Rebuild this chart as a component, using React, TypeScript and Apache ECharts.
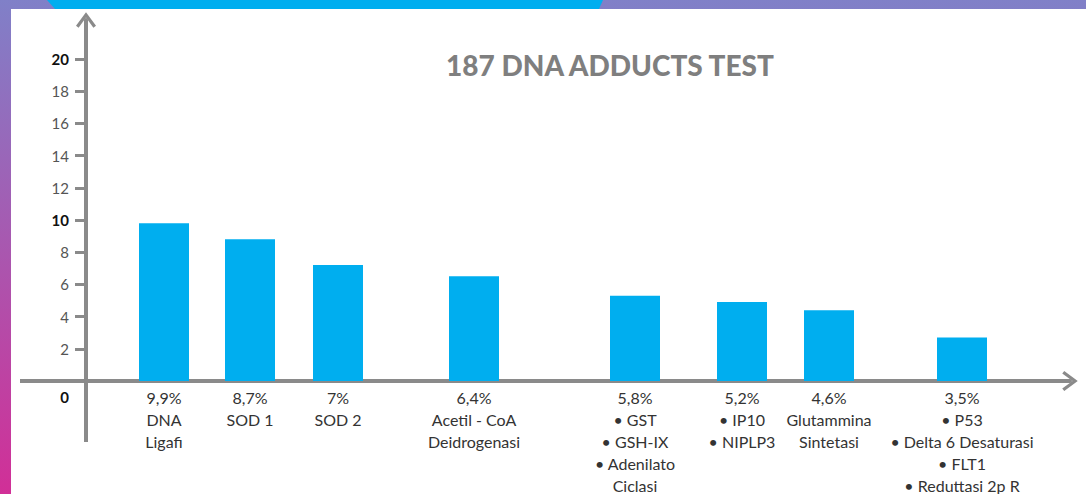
import React, { useEffect, useRef } from "react";
import * as echarts from "echarts";

// ---- data ----
const titleText = "187 DNA ADDUCTS TEST";
const percentLabels = ["9,9%", "8,7%", "7%", "6,4%", "5,8%", "5,2%", "4,6%", "3,5%"];
const categoryLines: string[][] = [
  ["DNA", "Ligafi"],
  ["SOD 1"],
  ["SOD 2"],
  ["Acetil - CoA", "Deidrogenasi"],
  ["• GST", "• GSH-IX", "• Adenilato", "Ciclasi"],
  ["• IP10", "• NIPLP3"],
  ["Glutammina", "Sintetasi"],
  ["• P53", "• Delta 6 Desaturasi", "• FLT1", "• Reduttasi 2p R"],
];
// bar heights as drawn in the picture (y-axis units)
const barValues = [9.8, 8.8, 7.2, 6.5, 5.3, 4.9, 4.4, 2.7];
// horizontal slot of each bar along the (unlabelled) x value axis
const slots = [7.8, 16.4, 25.2, 38.8, 54.9, 65.6, 74.3, 87.6];
const yTickValues = [2, 4, 6, 8, 10, 12, 14, 16, 18, 20];
const yLabelValues = [0, 2, 4, 6, 8, 10, 12, 14, 16, 18, 20];
const boldYLabels = [0, 10, 20];

const AXIS_COLOR = "#8a8a8a";
const BAR_COLOR = "#00aeef";
const FONT = "Lato, 'Open Sans', sans-serif";
const CHEVRON = "path://M10 0 L20 13.5 L17.4 15.5 L10 5.2 L2.6 15.5 L0 13.5 Z";

// grid frame (pixels)
const GRID_LEFT = 86;
const GRID_TOP = 20;
const GRID_RIGHT = 16;
const BASE_Y = 381;

export default function App() {
  const ref = useRef<HTMLDivElement>(null);

  useEffect(() => {
    if (!ref.current) return;
    const chart = echarts.init(ref.current, null, { renderer: "svg" });

    const slotIndex = (v: number) => slots.findIndex((s) => Math.abs(s - v) < 0.01);

    const option: any = {
      animation: false,
      grid: {
        left: GRID_LEFT,
        right: GRID_RIGHT,
        top: GRID_TOP,
        bottom: 494 - BASE_Y,
        outerBoundsMode: "none",
        containLabel: false,
      },
      graphic: [
        {
          type: "rect",
          z: -100,
          silent: true,
          shape: { x: 0, y: 0, width: 1086, height: 494 },
          style: {
            fill: new echarts.graphic.LinearGradient(0, 0, 0, 1, [
              { offset: 0, color: "#8080c8" },
              { offset: 1, color: "#d12f97" },
            ]),
          },
        },
        {
          type: "rect",
          z: -99,
          silent: true,
          shape: { x: 11, y: 9, width: 1075, height: 485 },
          style: { fill: "#ffffff" },
        },
        {
          type: "polygon",
          z: -99,
          silent: true,
          shape: { points: [[47, 0], [603, 0], [599, 9], [55, 9]] },
          style: { fill: BAR_COLOR },
        },
        // axis extensions past the origin (cross shape)
        {
          type: "line",
          z: -50,
          silent: true,
          shape: { x1: GRID_LEFT, y1: BASE_Y, x2: GRID_LEFT, y2: 442 },
          style: { stroke: AXIS_COLOR, lineWidth: 4 },
        },
        {
          type: "line",
          z: -50,
          silent: true,
          shape: { x1: 20, y1: BASE_Y, x2: GRID_LEFT, y2: BASE_Y },
          style: { stroke: AXIS_COLOR, lineWidth: 4 },
        },
        {
          type: "text",
          z: 10,
          x: 610,
          y: 65,
          style: {
            text: titleText,
            fill: "#7f7f7f",
            font: `900 28px ${FONT}`,
            textAlign: "center",
            textVerticalAlign: "middle",
          },
        },
      ],
      xAxis: {
        type: "value",
        min: 0,
        max: 98.4,
        axisLine: {
          onZero: false,
          symbol: ["none", CHEVRON],
          symbolSize: [20, 16],
          lineStyle: { color: AXIS_COLOR, width: 4 },
        },
        axisTick: { show: false },
        splitLine: { show: false },
        axisLabel: {
          customValues: slots,
          margin: 5,
          color: "#333333",
          fontFamily: FONT,
          fontSize: 16,
          lineHeight: 22,
          align: "center",
          formatter: (v: number) => {
            const i = slotIndex(v);
            if (i < 0) return "";
            return [percentLabels[i], ...categoryLines[i]].join("\n");
          },
        },
      },
      yAxis: {
        type: "value",
        min: 0,
        max: 22.42,
        axisLine: {
          onZero: false,
          symbol: ["none", CHEVRON],
          symbolSize: [20, 16],
          lineStyle: { color: AXIS_COLOR, width: 4 },
        },
        axisTick: {
          show: true,
          customValues: yTickValues,
          length: 11,
          lineStyle: { color: AXIS_COLOR, width: 3 },
        },
        splitLine: { show: false },
        axisLabel: {
          customValues: yLabelValues,
          margin: 17,
          color: "#555555",
          fontFamily: FONT,
          fontSize: 15,
          formatter: (v: number) => {
            if (v === 0) return "{z|0}";
            if (boldYLabels.includes(v)) return `{b|${v}}`;
            return String(v);
          },
          rich: {
            b: { fontWeight: "bold", color: "#111111", fontFamily: FONT, fontSize: 15 },
            z: { fontWeight: "bold", color: "#111111", fontFamily: FONT, fontSize: 15, padding: [32, 0, 0, 0] },
          },
        },
      },
      series: [
        {
          type: "bar",
          barWidth: 50,
          itemStyle: { color: BAR_COLOR },
          data: slots.map((s, i) => [s, barValues[i]]),
          z: 1,
        },
      ],
    };

    chart.setOption(option);
    return () => chart.dispose();
  }, []);

  return (
    <div
      ref={ref}
      style={{ position: "absolute", left: 0, top: 0, width: 1086, height: 494 }}
    />
  );
}
